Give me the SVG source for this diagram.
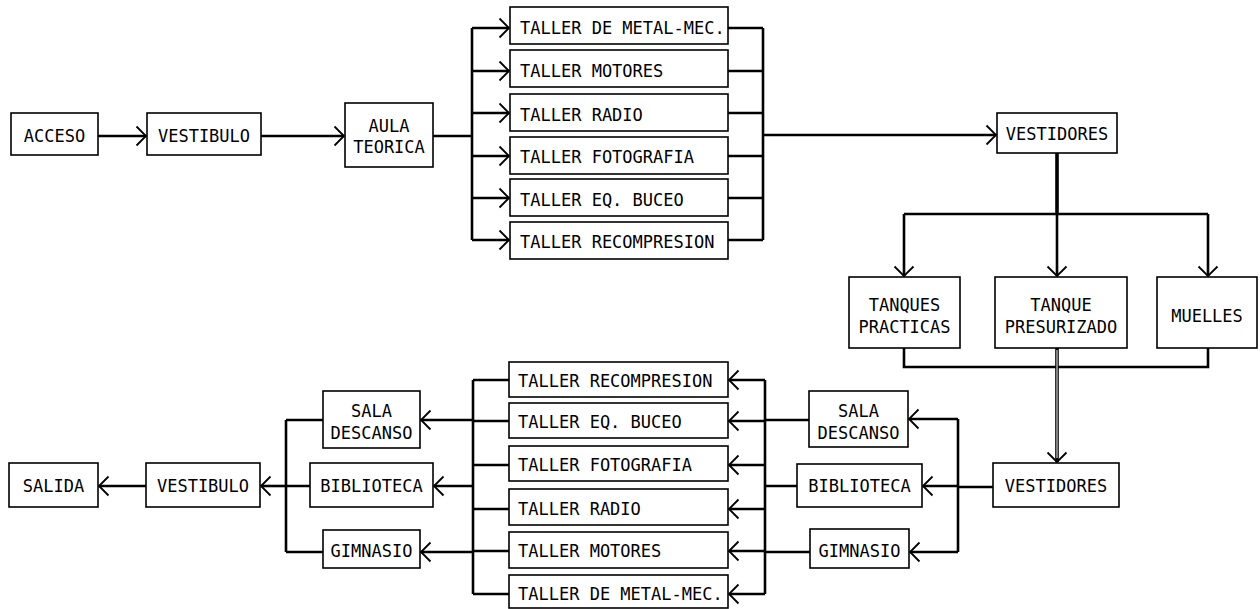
<svg xmlns="http://www.w3.org/2000/svg" width="1260" height="609" viewBox="0 0 1260 609">
<defs>
<style>
rect.b{fill:#fff;stroke:#000;stroke-width:1.6}
text{font-family:"DejaVu Sans Mono","Liberation Mono",monospace;font-size:17px;fill:#000}
text.c{text-anchor:middle}
.w path{fill:none;stroke:#000;stroke-width:2.6;stroke-linejoin:miter}
.w path.a{marker-end:url(#ah)}
.w path.d{stroke-width:3.6}
.w path.di{stroke:#fff;stroke-width:1;marker-end:none}
</style>
<marker id="ah" markerWidth="13" markerHeight="22" refX="11" refY="11" orient="auto" markerUnits="userSpaceOnUse">
<path d="M1.5,1.5 L11,11 L1.5,20.5" fill="none" stroke="#000" stroke-width="1.8"/>
</marker>
</defs>
<rect width="1260" height="609" fill="#fff"/>

<g id="connectors" class="w">
<path class="a" d="M98,136 H146"/>
<path class="a" d="M261,136 H344"/>
<path d="M433,136 H472"/>
<path d="M472,28 V240"/>
<path class="a" d="M472,28 H509"/>
<path class="a" d="M472,71 H509"/>
<path class="a" d="M472,113 H509"/>
<path class="a" d="M472,156 H509"/>
<path class="a" d="M472,198 H509"/>
<path class="a" d="M472,240 H509"/>
<path d="M728,28 H763 M728,71 H763 M728,113 H763 M728,156 H763 M728,198 H763 M728,240 H763"/>
<path d="M763,28 V240"/>
<path class="a" d="M763,135 H996"/>
<path class="d" d="M1057,153 V214"/>
<path class="a" d="M1057,214 V276"/>
<path d="M904,214 H1208"/>
<path class="a" d="M904,214 V276"/>
<path class="a" d="M1208,214 V276"/>
<path d="M904,348 V367 H1208 V348"/>
<path class="a d" d="M1057,348 V462"/>
<path class="di" d="M1057,350 V458"/>

<path d="M993,487 H958"/>
<path d="M958,419 V552"/>
<path class="a" d="M958,419 H909"/>
<path class="a" d="M958,486 H923"/>
<path class="a" d="M958,552 H910"/>
<path d="M809,420 H765 M797,486 H765 M810,552 H765"/>
<path d="M765,380 V594"/>
<path class="a" d="M765,380 H729"/>
<path class="a" d="M765,421 H729"/>
<path class="a" d="M765,465 H729"/>
<path class="a" d="M765,509 H729"/>
<path class="a" d="M765,551 H729"/>
<path class="a" d="M765,594 H729"/>
<path d="M509,380 H473 M509,421 H473 M509,465 H473 M509,509 H473 M509,551 H473 M509,594 H473"/>
<path d="M473,380 V594"/>
<path class="a" d="M473,420 H421"/>
<path class="a" d="M473,486 H434"/>
<path class="a" d="M473,552 H421"/>
<path d="M323,420 H286 M310,486 H286 M323,552 H286"/>
<path d="M286,420 V552"/>
<path class="a" d="M286,486 H261"/>
<path class="a" d="M146,486 H99"/>
</g>

<g id="acceso"><rect class="b" x="11" y="113" width="87" height="42"/><text class="c" x="54.5" y="142">ACCESO</text></g>
<g id="vestibulo1"><rect class="b" x="147" y="113" width="114" height="42"/><text class="c" x="204" y="142">VESTIBULO</text></g>
<g id="aula"><rect class="b" x="345" y="103" width="88" height="64"/><text class="c" x="389" y="132">AULA</text><text class="c" x="389" y="153">TEORICA</text></g>

<g id="t1-metal"><rect class="b" x="510" y="7" width="218" height="37"/><text x="520" y="34">TALLER DE METAL-MEC.</text></g>
<g id="t1-motores"><rect class="b" x="510" y="50" width="218" height="37"/><text x="520" y="77">TALLER MOTORES</text></g>
<g id="t1-radio"><rect class="b" x="510" y="94" width="218" height="37"/><text x="520" y="121">TALLER RADIO</text></g>
<g id="t1-foto"><rect class="b" x="510" y="137" width="218" height="37"/><text x="520" y="163">TALLER FOTOGRAFIA</text></g>
<g id="t1-buceo"><rect class="b" x="510" y="179" width="218" height="37"/><text x="520" y="206">TALLER EQ. BUCEO</text></g>
<g id="t1-recomp"><rect class="b" x="510" y="222" width="218" height="37"/><text x="520" y="248">TALLER RECOMPRESION</text></g>

<g id="vestidores1"><rect class="b" x="997" y="113" width="120" height="40"/><text class="c" x="1057" y="140">VESTIDORES</text></g>
<g id="tanques"><rect class="b" x="849" y="277" width="111" height="71"/><text class="c" x="904.5" y="311">TANQUES</text><text class="c" x="904.5" y="333">PRACTICAS</text></g>
<g id="presurizado"><rect class="b" x="995" y="277" width="132" height="71"/><text class="c" x="1061" y="311">TANQUE</text><text class="c" x="1061" y="333">PRESURIZADO</text></g>
<g id="muelles"><rect class="b" x="1157" y="277" width="100" height="71"/><text class="c" x="1207" y="322">MUELLES</text></g>

<g id="vestidores2"><rect class="b" x="993" y="463" width="126" height="44"/><text class="c" x="1056" y="492">VESTIDORES</text></g>
<g id="sala-r"><rect class="b" x="809" y="391" width="99" height="56"/><text class="c" x="858.5" y="417">SALA</text><text class="c" x="858.5" y="439">DESCANSO</text></g>
<g id="biblio-r"><rect class="b" x="797" y="464" width="125" height="43"/><text class="c" x="859.5" y="492">BIBLIOTECA</text></g>
<g id="gim-r"><rect class="b" x="810" y="529" width="99" height="39"/><text class="c" x="859.5" y="557">GIMNASIO</text></g>

<g id="t2-recomp"><rect class="b" x="509" y="362" width="219" height="35"/><text x="518" y="387">TALLER RECOMPRESION</text></g>
<g id="t2-buceo"><rect class="b" x="509" y="403" width="219" height="35"/><text x="518" y="428">TALLER EQ. BUCEO</text></g>
<g id="t2-foto"><rect class="b" x="509" y="446" width="219" height="35"/><text x="518" y="471">TALLER FOTOGRAFIA</text></g>
<g id="t2-radio"><rect class="b" x="509" y="489" width="219" height="36"/><text x="518" y="515">TALLER RADIO</text></g>
<g id="t2-motores"><rect class="b" x="509" y="532" width="219" height="36"/><text x="518" y="557">TALLER MOTORES</text></g>
<g id="t2-metal"><rect class="b" x="509" y="575" width="219" height="33"/><text x="518" y="600">TALLER DE METAL-MEC.</text></g>

<g id="sala-l"><rect class="b" x="323" y="391" width="97" height="57"/><text class="c" x="371.5" y="417">SALA</text><text class="c" x="371.5" y="439">DESCANSO</text></g>
<g id="biblio-l"><rect class="b" x="310" y="463" width="123" height="44"/><text class="c" x="371.5" y="492">BIBLIOTECA</text></g>
<g id="gim-l"><rect class="b" x="323" y="530" width="97" height="38"/><text class="c" x="371.5" y="557">GIMNASIO</text></g>
<g id="vestibulo2"><rect class="b" x="146" y="463" width="114" height="44"/><text class="c" x="203" y="492">VESTIBULO</text></g>
<g id="salida"><rect class="b" x="9" y="463" width="89" height="44"/><text class="c" x="53.5" y="492">SALIDA</text></g>
</svg>
